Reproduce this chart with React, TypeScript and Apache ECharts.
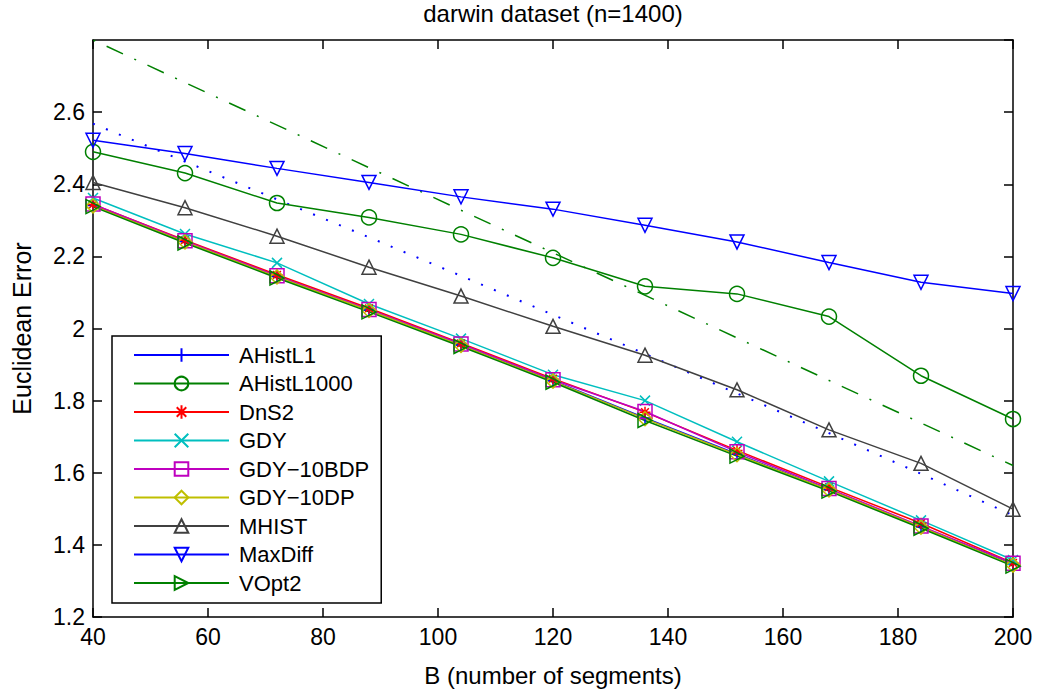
import React, { useEffect, useRef } from "react";
import * as echarts from "echarts";

const B = [40, 56, 72, 88, 104, 120, 136, 152, 168, 184, 200];

const AHistL1 = [2.341, 2.241, 2.144, 2.051, 1.954, 1.855, 1.752, 1.652, 1.553, 1.450, 1.346];
const AHistL1000 = [2.490, 2.431, 2.348, 2.308, 2.261, 2.196, 2.117, 2.096, 2.033, 1.869, 1.749];
const DnS2 = [2.344, 2.245, 2.149, 2.056, 1.959, 1.861, 1.768, 1.662, 1.560, 1.460, 1.350];
const GDY = [2.362, 2.262, 2.182, 2.068, 1.972, 1.872, 1.800, 1.686, 1.576, 1.468, 1.358];
const GDY10BDP = [2.345, 2.243, 2.146, 2.053, 1.957, 1.858, 1.770, 1.658, 1.556, 1.452, 1.349];
const GDY10DP = [2.340, 2.240, 2.143, 2.050, 1.953, 1.854, 1.750, 1.650, 1.552, 1.449, 1.344];
const MHIST = [2.405, 2.335, 2.256, 2.170, 2.090, 2.006, 1.926, 1.830, 1.719, 1.626, 1.499];
const MaxDiff = [2.522, 2.485, 2.444, 2.405, 2.365, 2.331, 2.286, 2.240, 2.183, 2.128, 2.097];
const VOpt2 = [2.338, 2.237, 2.140, 2.046, 1.950, 1.851, 1.745, 1.646, 1.549, 1.446, 1.341];

// reference lines without legend entries
const dottedFit = [2.568, 2.463, 2.358, 2.253, 2.146, 2.038, 1.930, 1.820, 1.710, 1.597, 1.482];
const dashDotB = [40, 200];
const dashDotFit = [2.80, 1.62];

const FONT = "Liberation Sans";

const SYM_PLUS = "path://M5,0 L5,10 M0,5 L10,5";
const SYM_STAR = "path://M5,0 L5,10 M0,5 L10,5 M1.5,1.5 L8.5,8.5 M8.5,1.5 L1.5,8.5";
const SYM_CROSS = "path://M0,0 L10,10 M10,0 L0,10";
const SYM_TRI_UP = "path://M5,0 L10,8.66 L0,8.66 Z";
const SYM_TRI_DOWN = "path://M0,0 L10,0 L5,8.66 Z";
const SYM_TRI_RIGHT = "path://M0,0 L8.66,5 L0,10 Z";

const pairs = (xs: number[], ys: number[]) => xs.map((x, i) => [x, ys[i]]);

function mkSeries(name: string, vals: number[], color: string, symbol: string, size: number) {
  return {
    name,
    type: "line",
    data: pairs(B, vals),
    symbol,
    symbolSize: size,
    showAllSymbol: true,
    lineStyle: { color, width: 1.5 },
    itemStyle: { color: "none", borderColor: color, borderWidth: 1.5 },
    emphasis: { disabled: true },
    z: 3,
  };
}

export default function App() {
  const ref = useRef<HTMLDivElement>(null);
  useEffect(() => {
    if (!ref.current) return;
    const chart = echarts.init(ref.current, null, { renderer: "svg" });
    const names = ["AHistL1", "AHistL1000", "DnS2", "GDY", "GDY\u221210BDP", "GDY\u221210DP", "MHIST", "MaxDiff", "VOpt2"];
    const axisCommon = {
      axisLine: { show: true, lineStyle: { color: "#000", width: 1.5 } },
      axisTick: { show: true, inside: true, length: 9, lineStyle: { color: "#000", width: 1.5 } },
      splitLine: { show: false },
    };
    const option: any = {
      animation: false,
      backgroundColor: "#fff",
      title: {
        text: "darwin dataset (n=1400)",
        left: 553,
        textAlign: "center",
        top: 1,
        padding: 0,
        textStyle: { fontFamily: FONT, fontSize: 24, fontWeight: "normal", color: "#000" },
      },
      grid: { left: 93, right: 33, top: 40, bottom: 72, outerBoundsMode: "none", containLabel: false },
      legend: {
        data: names,
        orient: "vertical",
        left: 112,
        top: 336,
        itemWidth: 95,
        itemHeight: 17,
        itemGap: 6.5,
        padding: [8, 12, 9, 21],
        borderColor: "#000",
        borderWidth: 1.5,
        backgroundColor: "#fff",
        selectedMode: false,
        textStyle: { fontFamily: FONT, fontSize: 22, color: "#000", lineHeight: 22, padding: [0, 0, 0, 5] },
      },
      xAxis: [
        {
          type: "value",
          min: 40,
          max: 200,
          interval: 20,
          name: "B (number of segments)",
          nameLocation: "middle",
          nameGap: 46,
          nameTextStyle: { fontFamily: FONT, fontSize: 24, color: "#000" },
          axisLabel: { fontFamily: FONT, fontSize: 23, color: "#000", margin: 8 },
          ...axisCommon,
        },
        {
          type: "value",
          position: "top",
          min: 40,
          max: 200,
          interval: 20,
          axisLabel: { show: false },
          ...axisCommon,
        },
      ],
      yAxis: [
        {
          type: "value",
          min: 1.2,
          max: 2.8,
          interval: 0.2,
          name: "Euclidean Error",
          nameLocation: "middle",
          nameGap: 59,
          nameTextStyle: { fontFamily: FONT, fontSize: 25, color: "#000" },
          axisLabel: {
            fontFamily: FONT,
            fontSize: 23,
            color: "#000",
            margin: 8,
            showMaxLabel: false,
            formatter: (v: number) => String(+v.toFixed(1)),
          },
          ...axisCommon,
        },
        {
          type: "value",
          position: "right",
          min: 1.2,
          max: 2.8,
          interval: 0.2,
          axisLabel: { show: false },
          ...axisCommon,
        },
      ],
      series: [
        {
          name: "fitDotted",
          type: "line",
          data: pairs(B, dottedFit),
          symbol: "none",
          lineStyle: { color: "#0000ff", width: 2, type: [2, 12] },
          emphasis: { disabled: true },
          z: 2,
        },
        {
          name: "fitDashDot",
          type: "line",
          data: pairs(dashDotB, dashDotFit),
          symbol: "none",
          lineStyle: { color: "#008000", width: 1.5, type: [18, 12.5, 2, 12.5], dashOffset: 30 },
          emphasis: { disabled: true },
          z: 2,
        },
        mkSeries(names[0], AHistL1, "#0000ff", SYM_PLUS, 11),
        mkSeries(names[1], AHistL1000, "#008000", "circle", 15),
        mkSeries(names[2], DnS2, "#ff0000", SYM_STAR, 11),
        mkSeries(names[3], GDY, "#00bfbf", SYM_CROSS, 10),
        mkSeries(names[4], GDY10BDP, "#bf00bf", "rect", 14),
        mkSeries(names[5], GDY10DP, "#bfbf00", "diamond", 14),
        mkSeries(names[6], MHIST, "#404040", SYM_TRI_UP, 14),
        mkSeries(names[7], MaxDiff, "#0000ff", SYM_TRI_DOWN, 14),
        mkSeries(names[8], VOpt2, "#008000", SYM_TRI_RIGHT, 14),
      ],
    };
    chart.setOption(option);
    return () => chart.dispose();
  }, []);
  return (
    <div
      ref={ref}
      style={{ position: "fixed", left: 0, top: 0, width: 1046, height: 689, background: "#fff" }}
    />
  );
}
